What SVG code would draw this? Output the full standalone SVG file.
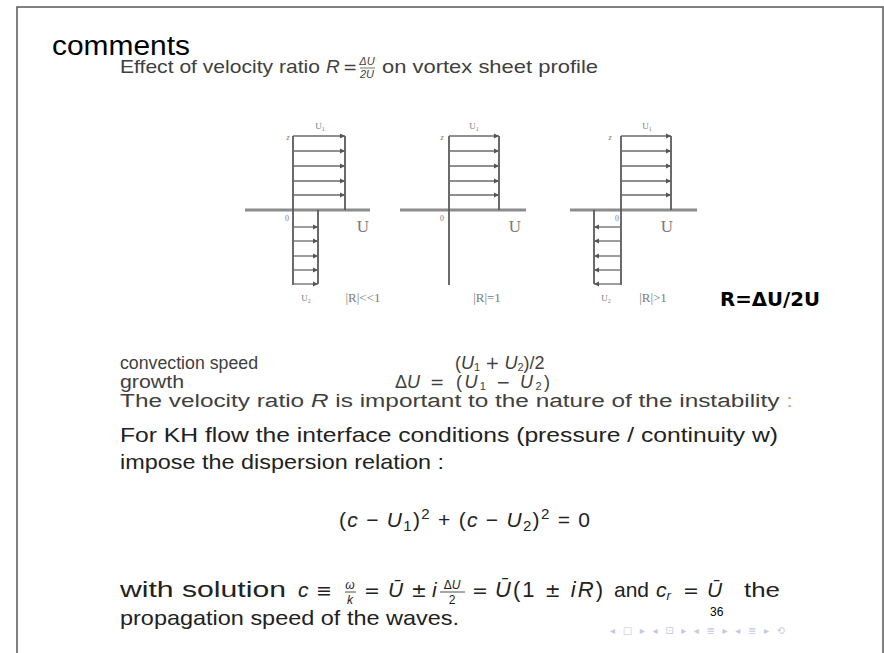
<svg xmlns="http://www.w3.org/2000/svg" width="884" height="653" viewBox="0 0 884 653">
<style>
  .sl { font-family: "Liberation Sans", Arial, sans-serif; fill: #404040; }
  .tx { font-family: "Liberation Sans", Arial, sans-serif; fill: #222; }
  .it { font-style: italic; }
  .sym { font-family: "DejaVu Sans", sans-serif; }
  .lab { font-family: "Liberation Serif", "Times New Roman", serif; fill: #7a7a7a; }
  .ax { stroke: #8c8c8c; stroke-width: 3; fill: none; }
  .vl { stroke: #5a5a5a; stroke-width: 1.8; fill: none; }
  .ar { stroke: #6a6a6a; stroke-width: 1.3; fill: none; marker-end: url(#ah); }
  .nav { font-family: "DejaVu Sans", sans-serif; fill: #c4c7e2; font-size: 10px; }
</style>
<defs>
  <marker id="ah" markerUnits="userSpaceOnUse" markerWidth="6" markerHeight="6" refX="5" refY="3" orient="auto">
    <path d="M0,0.5 L5,3 L0,5.5 z" fill="#555"/>
  </marker>
</defs>
<rect width="884" height="653" fill="#fff"/>
<!-- slide frame -->
<path d="M17,653 V7 H883 V653" fill="none" stroke="#555" stroke-width="1.5"/>

<text x="52" y="55" font-family="Liberation Sans, Arial, sans-serif" font-size="27" fill="#000" textLength="138" lengthAdjust="spacingAndGlyphs">comments</text>

<!-- heading -->
<g id="heading" class="sl" font-size="19">
  <text x="120" y="73" textLength="200" lengthAdjust="spacingAndGlyphs">Effect of velocity ratio</text>
  <text x="326" y="73" class="it">R</text>
  <text x="343" y="73" class="sym" font-size="17">=</text>
  <text x="367" y="65" font-size="11" class="it" text-anchor="middle">ΔU</text>
  <line x1="360" y1="68" x2="375" y2="68" stroke="#555" stroke-width="0.8"/>
  <text x="367" y="78" font-size="11" class="it" text-anchor="middle">2U</text>
  <text x="382" y="73" textLength="216" lengthAdjust="spacingAndGlyphs">on vortex sheet profile</text>
</g>

<!-- panel 1: |R|<<1 -->
<g id="panel1">
  <line class="ax" x1="245" y1="210" x2="370" y2="210"/>
  <line class="vl" x1="293" y1="136" x2="293" y2="285"/>
  <line class="vl" x1="345" y1="136" x2="345" y2="210"/>
  <line class="vl" x1="318" y1="210" x2="318" y2="284"/>
  <line class="ar" x1="293" y1="136" x2="345" y2="136"/>
  <line class="ar" x1="293" y1="151" x2="345" y2="151"/>
  <line class="ar" x1="293" y1="166" x2="345" y2="166"/>
  <line class="ar" x1="293" y1="181" x2="345" y2="181"/>
  <line class="ar" x1="293" y1="195" x2="345" y2="195"/>
  <line class="ar" x1="293" y1="227" x2="318" y2="227"/>
  <line class="ar" x1="293" y1="241" x2="318" y2="241"/>
  <line class="ar" x1="293" y1="256" x2="318" y2="256"/>
  <line class="ar" x1="293" y1="270" x2="318" y2="270"/>
  <line class="ar" x1="293" y1="284" x2="318" y2="284"/>
  <text class="lab" x="320" y="129" font-size="9" text-anchor="middle">U<tspan font-size="6" dy="2">1</tspan></text>
  <text class="lab it" x="288" y="140" font-size="8" text-anchor="middle">z</text>
  <text class="lab" x="287" y="221" font-size="8" text-anchor="middle">0</text>
  <text class="lab" x="363" y="232" font-size="17" text-anchor="middle" fill="#666">U</text>
  <text class="lab" x="306" y="301" font-size="9" text-anchor="middle">U<tspan font-size="6" dy="2">2</tspan></text>
  <text class="lab" x="363" y="302" font-size="13" text-anchor="middle">|R|&lt;&lt;1</text>
</g>

<!-- panel 2: |R|=1 -->
<g id="panel2">
  <line class="ax" x1="400" y1="210" x2="526" y2="210"/>
  <line class="vl" x1="449" y1="136" x2="449" y2="285"/>
  <line class="vl" x1="499" y1="136" x2="499" y2="210"/>
  <line class="ar" x1="449" y1="136" x2="499" y2="136"/>
  <line class="ar" x1="449" y1="151" x2="499" y2="151"/>
  <line class="ar" x1="449" y1="166" x2="499" y2="166"/>
  <line class="ar" x1="449" y1="181" x2="499" y2="181"/>
  <line class="ar" x1="449" y1="195" x2="499" y2="195"/>
  <text class="lab" x="474" y="129" font-size="9" text-anchor="middle">U<tspan font-size="6" dy="2">1</tspan></text>
  <text class="lab it" x="442" y="140" font-size="8" text-anchor="middle">z</text>
  <text class="lab" x="442" y="221" font-size="8" text-anchor="middle">0</text>
  <text class="lab" x="515" y="232" font-size="17" text-anchor="middle" fill="#666">U</text>
  <text class="lab" x="487" y="302" font-size="13" text-anchor="middle">|R|=1</text>
</g>

<!-- panel 3: |R|>1 -->
<g id="panel3">
  <line class="ax" x1="570" y1="210" x2="697" y2="210"/>
  <line class="vl" x1="621" y1="136" x2="621" y2="285"/>
  <line class="vl" x1="671" y1="136" x2="671" y2="210"/>
  <line class="vl" x1="594" y1="210" x2="594" y2="284"/>
  <line class="ar" x1="621" y1="136" x2="671" y2="136"/>
  <line class="ar" x1="621" y1="151" x2="671" y2="151"/>
  <line class="ar" x1="621" y1="166" x2="671" y2="166"/>
  <line class="ar" x1="621" y1="181" x2="671" y2="181"/>
  <line class="ar" x1="621" y1="195" x2="671" y2="195"/>
  <line class="ar" x1="621" y1="227" x2="594" y2="227"/>
  <line class="ar" x1="621" y1="241" x2="594" y2="241"/>
  <line class="ar" x1="621" y1="256" x2="594" y2="256"/>
  <line class="ar" x1="621" y1="270" x2="594" y2="270"/>
  <line class="ar" x1="621" y1="284" x2="594" y2="284"/>
  <text class="lab" x="647" y="129" font-size="9" text-anchor="middle">U<tspan font-size="6" dy="2">1</tspan></text>
  <text class="lab it" x="610" y="140" font-size="8" text-anchor="middle">z</text>
  <text class="lab" x="617" y="221" font-size="8" text-anchor="middle">0</text>
  <text class="lab" x="667" y="232" font-size="17" text-anchor="middle" fill="#666">U</text>
  <text class="lab" x="606" y="301" font-size="9" text-anchor="middle">U<tspan font-size="6" dy="2">2</tspan></text>
  <text class="lab" x="653" y="302" font-size="13" text-anchor="middle">|R|&gt;1</text>
</g>

<text id="ratio" x="720" y="306" font-family="DejaVu Sans, sans-serif" font-weight="bold" font-size="19" fill="#000" textLength="100" lengthAdjust="spacingAndGlyphs">R=ΔU/2U</text>

<!-- text block -->
<g id="defs-text" class="sl" font-size="18">
  <text x="120" y="369" textLength="138" lengthAdjust="spacingAndGlyphs">convection speed</text>
  <text x="455" y="369">(<tspan class="it">U</tspan><tspan font-size="11" dy="2">1</tspan><tspan dy="-2"> </tspan><tspan class="sym" font-size="17">+</tspan> <tspan class="it">U</tspan><tspan font-size="11" dy="2">2</tspan><tspan dy="-2">)/2</tspan></text>
  <text x="120" y="388" textLength="64" lengthAdjust="spacingAndGlyphs">growth</text>
  <text x="395" y="388">Δ<tspan class="it">U</tspan></text>
  <text x="430" y="388" class="sym" font-size="17">=</text>
  <text x="456" y="388" textLength="94" lengthAdjust="spacing">(<tspan class="it">U</tspan><tspan font-size="11" dy="2">1</tspan><tspan dy="-2"> </tspan><tspan class="sym" font-size="17">−</tspan> <tspan class="it">U</tspan><tspan font-size="11" dy="2">2</tspan><tspan dy="-2">)</tspan></text>
  <text x="120" y="407" textLength="673" lengthAdjust="spacingAndGlyphs">The velocity ratio <tspan class="it">R</tspan> is important to the nature of the instability <tspan fill="#d8a070">:</tspan></text>
</g>

<g id="kh-text" class="tx" font-size="21">
  <text x="120" y="442" textLength="658" lengthAdjust="spacingAndGlyphs">For KH flow the interface conditions (pressure / continuity w)</text>
  <text x="120" y="469" textLength="324" lengthAdjust="spacingAndGlyphs">impose the dispersion relation :</text>
  <text x="339" y="527" textLength="251" lengthAdjust="spacing">(<tspan class="it">c</tspan> − <tspan class="it">U</tspan><tspan font-size="15" dy="4">1</tspan><tspan dy="-4">)</tspan><tspan font-size="15" dy="-8">2</tspan><tspan dy="8"> + (</tspan><tspan class="it">c</tspan> − <tspan class="it">U</tspan><tspan font-size="15" dy="4">2</tspan><tspan dy="-4">)</tspan><tspan font-size="15" dy="-8">2</tspan><tspan dy="8"> = 0</tspan></text>

  <text x="120" y="597" font-size="22" textLength="166" lengthAdjust="spacingAndGlyphs">with solution</text>
  <text x="298" y="597" class="it">c</text>
  <text x="316" y="597" class="sym" font-size="19">≡</text>
  <text x="350" y="589" font-size="12" class="it" text-anchor="middle">ω</text>
  <line x1="345" y1="592" x2="356" y2="592" stroke="#222" stroke-width="0.8"/>
  <text x="350" y="604" font-size="12" class="it" text-anchor="middle">k</text>
  <text x="364" y="597" class="sym" font-size="19">=</text>
  <text x="388" y="597" class="it">Ū</text>
  <text x="411" y="597" class="sym" font-size="19">±</text>
  <text x="432" y="597" class="it">i</text>
  <text x="452" y="589" font-size="12" text-anchor="middle">Δ<tspan class="it">U</tspan></text>
  <line x1="440" y1="592" x2="465" y2="592" stroke="#222" stroke-width="0.8"/>
  <text x="452" y="604" font-size="12" text-anchor="middle">2</text>
  <text x="472" y="597" class="sym" font-size="19">=</text>
  <text x="495" y="597" font-size="22" textLength="108" lengthAdjust="spacing"><tspan class="it">Ū</tspan>(1 <tspan class="sym" font-size="19">±</tspan> <tspan class="it">iR</tspan>)</text>
  <text x="614" y="597" textLength="35" lengthAdjust="spacingAndGlyphs">and</text>
  <text x="656" y="597" class="it">c<tspan font-size="13" dy="3">r</tspan></text>
  <text x="683" y="597" class="sym" font-size="19">=</text>
  <text x="707" y="597" class="it">Ū</text>
  <text x="744" y="597" textLength="36" lengthAdjust="spacingAndGlyphs">the</text>
  <text x="120" y="625" textLength="339" lengthAdjust="spacingAndGlyphs">propagation speed of the waves.</text>
</g>

<text id="pagenum" x="710" y="616" font-family="Liberation Sans, Arial, sans-serif" font-size="12" fill="#000">36</text>

<g id="navigation">
  <text class="nav" x="610" y="634" textLength="175" lengthAdjust="spacing">◂ □ ▸ ◂ ⊡ ▸ ◂ ≣ ▸ ◂ ≣ ▸   ⟲</text>
</g>
</svg>
